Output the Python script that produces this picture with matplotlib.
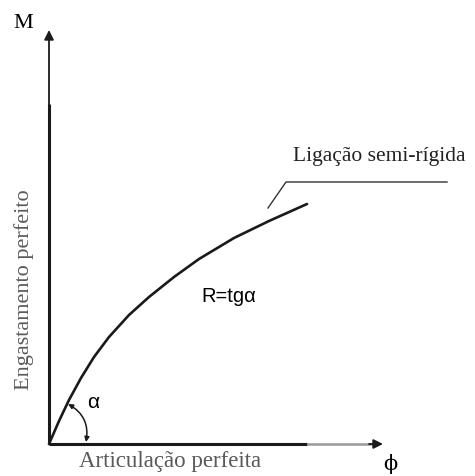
import numpy as np
import matplotlib
matplotlib.use("Agg")
from matplotlib import pyplot as plt
from matplotlib.patches import FancyArrowPatch

# curve M(phi) of the semi-rigid connection
phi = [0, 10, 20, 32, 45, 60, 80, 100, 125, 150, 185, 220, 258]
moment = [0, 23, 44, 66, 87, 107, 129, 147, 167, 185, 206, 223, 240]

# leader line from the curve to its label
leader_x = [219, 237, 398]
leader_y = [236, 262, 262]

serif = "Liberation Serif"
sans = "Liberation Sans"
grey = "#5a5a5a"

fig = plt.figure(figsize=(4.75, 4.77), dpi=100)
ax = fig.add_axes([0, 0, 1, 1])
ax.set_xlim(-49, 426)
ax.set_ylim(-32, 445)
ax.axis("off")

# axes of the diagram
ax.plot([0, 0], [0, 340], color="#1a1a1a", lw=2.2, solid_capstyle="butt")
ax.plot([0, 258], [0, 0], color="#1a1a1a", lw=2.2, solid_capstyle="butt")
ax.plot([258, 325], [0, 0], color="#999999", lw=1.8, solid_capstyle="butt")
ax.annotate("", xy=(0, 414), xytext=(0, 338),
            arrowprops=dict(arrowstyle="-|>", color="#1a1a1a", lw=1.3,
                            mutation_scale=14, shrinkA=0, shrinkB=0))
ax.annotate("", xy=(334, 0), xytext=(320, 0),
            arrowprops=dict(arrowstyle="-|>", color="#1a1a1a", lw=1.3,
                            mutation_scale=14, shrinkA=0, shrinkB=0))

# the curve
ax.plot(phi, moment, color="#1a1a1a", lw=1.9, solid_capstyle="round")
ax.plot(leader_x, leader_y, color="#333333", lw=1.0)

# angle alpha
arc = FancyArrowPatch((19, 40), (37, 2), connectionstyle="arc3,rad=-0.35",
                      arrowstyle="<|-|>", mutation_scale=7, color="#1a1a1a",
                      lw=1.1, shrinkA=0, shrinkB=0)
ax.add_patch(arc)

ax.text(-26, 422, "M", family=serif, fontsize=16, ha="center", va="center")
ax.text(341, -19, "\u03d5", family="DejaVu Serif", fontsize=15, ha="center", va="center")
ax.text(121, -17, "Articula\u00e7\u00e3o perfeita", family=serif, fontsize=16.5,
        color=grey, ha="center", va="center")
ax.text(-25, 155, "Engastamento perfeito", family=serif, fontsize=16,
        color=grey, ha="center", va="center", rotation=90)
ax.text(244, 289, "Liga\u00e7\u00e3o semi-r\u00edgida", family=serif, fontsize=15.5,
        ha="left", va="center", color="#222222")
ax.text(44, 42, "\u03b1", family=sans, fontsize=15, ha="center", va="center")
ax.text(180, 148, "R=tg\u03b1", family=sans, fontsize=14.5, ha="center", va="center")

fig.savefig("out.png", dpi=100)
